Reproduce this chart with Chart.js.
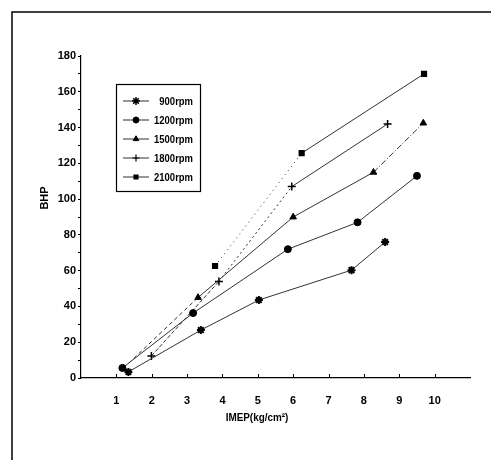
<!DOCTYPE html>
<html>
<head>
<meta charset="utf-8">
<script src="https://cdn.jsdelivr.net/npm/chart.js@4"></script>
<style>
html,body{margin:0;padding:0;background:#fff;}
#wrap{width:491px;height:460px;position:relative;}
</style>
</head>
<body>
<div id="wrap"><canvas id="c"></canvas></div>
<script>
// ---- data ----
const seriesNames = ["900rpm", "1200rpm", "1500rpm", "1800rpm", "2100rpm"];
const rpm900X  = [1.34, 3.39, 5.03, 7.65, 8.6];
const rpm900Y  = [3.4, 26.8, 43.6, 60.3, 76];
const rpm1200X = [1.17, 3.17, 5.85, 7.82, 9.5];
const rpm1200Y = [5.6, 36.3, 72, 87, 113];
const rpm1500X = [1.2, 3.31, 6.0, 8.27, 9.68];
const rpm1500Y = [5.5, 45, 90, 115, 142.5];
const rpm1800X = [1.99, 3.9, 5.96, 8.67];
const rpm1800Y = [12.3, 54, 107, 142];
const rpm2100X = [3.79, 6.24, 9.7];
const rpm2100Y = [62.6, 125.7, 170];
const xTickLabels = [1, 2, 3, 4, 5, 6, 7, 8, 9, 10];
const yTickLabels = [0, 20, 40, 60, 80, 100, 120, 140, 160, 180];
const xTitle = "IMEP(kg/cm\u00B2)";
const yTitle = "BHP";

const FONT = "'Liberation Sans',Arial,sans-serif";
const pts = (xs, ys) => xs.map((x, i) => ({x: x, y: ys[i]}));

const styles = [
  {pointStyle: 'star', radius: 4, borderWidth: 2, legendRadius: 4, legendWidth: 1.5, dashes: [[], [], [], []]},
  {pointStyle: 'circle', radius: 3.5, borderWidth: 1, legendRadius: 3, legendWidth: 1, dashes: [[], [], [], []]},
  {pointStyle: 'triangle', radius: 3.8, borderWidth: 1, legendRadius: 3.2, legendWidth: 1, dashes: [[4, 3], [], [], [6, 2, 1, 2]]},
  {pointStyle: 'cross', radius: 4, borderWidth: 1.5, legendRadius: 3.5, legendWidth: 1.2, dashes: [[4, 2], [2, 3], []]},
  {pointStyle: 'rect', radius: 3.3, borderWidth: 1.5, legendRadius: 2.8, legendWidth: 1.2, dashes: [[1, 4], []]}
];
const seriesData = [
  pts(rpm900X, rpm900Y), pts(rpm1200X, rpm1200Y), pts(rpm1500X, rpm1500Y),
  pts(rpm1800X, rpm1800Y), pts(rpm2100X, rpm2100Y)
];

const datasets = seriesNames.map((name, i) => ({
  label: name,
  data: seriesData[i],
  borderColor: '#333',
  borderWidth: 1,
  backgroundColor: '#000',
  pointBackgroundColor: '#000',
  pointBorderColor: '#000',
  pointStyle: styles[i].pointStyle,
  pointRadius: styles[i].radius,
  pointBorderWidth: styles[i].borderWidth,
  pointHoverRadius: styles[i].radius,
  fill: false,
  tension: 0,
  showLine: true,
  segment: {
    borderDash: ctx => styles[i].dashes[ctx.p0DataIndex] || []
  }
}));

const decor = {
  id: 'decor',
  beforeDraw(chart) {
    const ctx = chart.ctx;
    ctx.save();
    ctx.fillStyle = '#fff';
    ctx.fillRect(0, 0, chart.width, chart.height);
    ctx.strokeStyle = '#000';
    ctx.lineWidth = 1.5;
    ctx.beginPath();
    ctx.moveTo(12, 460);
    ctx.lineTo(12, 12);
    ctx.lineTo(491, 12);
    ctx.stroke();
    ctx.restore();
  },
  afterDraw(chart) {
    const ctx = chart.ctx;
    const xs = chart.scales.x, ys = chart.scales.y;
    ctx.save();
    // inward x ticks
    ctx.strokeStyle = '#000';
    ctx.lineWidth = 1;
    xTickLabels.forEach(v => {
      const px = Math.round(xs.getPixelForValue(v)) + 0.5;
      ctx.beginPath();
      ctx.moveTo(px, ys.bottom);
      ctx.lineTo(px, ys.bottom - 4);
      ctx.stroke();
    });
    // axis titles
    ctx.fillStyle = '#000';
    ctx.font = 'bold 11px ' + FONT;
    ctx.textAlign = 'center';
    ctx.textBaseline = 'middle';
    ctx.save();
    ctx.translate(257, 418);
    ctx.scale(0.9, 1);
    ctx.fillText(xTitle, 0, 0);
    ctx.restore();
    ctx.translate(45, 198);
    ctx.rotate(-Math.PI / 2);
    ctx.fillText(yTitle, 0, 0);
    ctx.restore();

    // legend box
    ctx.save();
    const L = 116, T = 84, R = 200, B = 191;
    ctx.fillStyle = '#fff';
    ctx.fillRect(L, T, R - L, B - T);
    ctx.strokeStyle = '#000';
    ctx.lineWidth = 1.2;
    ctx.strokeRect(L + 0.5, T + 0.5, R - L, B - T);
    chart.data.datasets.forEach((ds, i) => {
      const y = 101 + i * 19;
      ctx.strokeStyle = '#333';
      ctx.lineWidth = 1;
      ctx.setLineDash([]);
      ctx.beginPath();
      ctx.moveTo(123, y);
      ctx.lineTo(149, y);
      ctx.stroke();
      ctx.fillStyle = '#000';
      ctx.strokeStyle = '#000';
      ctx.lineWidth = styles[i].legendWidth;
      Chart.helpers.drawPoint(ctx, {
        pointStyle: styles[i].pointStyle,
        radius: styles[i].legendRadius,
        rotation: 0,
        borderWidth: styles[i].legendWidth
      }, 136, y);
      ctx.save();
      ctx.translate(193, y + 1);
      ctx.scale(0.86, 1);
      ctx.font = 'bold 11px ' + FONT;
      ctx.textAlign = 'right';
      ctx.textBaseline = 'middle';
      ctx.fillStyle = '#000';
      ctx.fillText(ds.label, 0, 0);
      ctx.restore();
    });
    ctx.restore();
  }
};

new Chart(document.getElementById('c'), {
  type: 'scatter',
  data: {datasets: datasets},
  options: {
    responsive: true,
    maintainAspectRatio: false,
    animation: false,
    layout: {padding: {top: 56, right: 21, left: 0, bottom: 0}},
    plugins: {legend: {display: false}, tooltip: {enabled: false}, title: {display: false}},
    scales: {
      x: {
        type: 'linear',
        min: 0, max: 11,
        afterFit: s => { s.height = 82; },
        border: {display: true, color: '#000', width: 1.2},
        grid: {display: false},
        ticks: {
          stepSize: 1,
          autoSkip: false,
          maxRotation: 0,
          padding: 8,
          color: '#000',
          font: {family: FONT, size: 11, weight: 'bold'},
          callback: v => xTickLabels.includes(v) ? String(v) : ''
        }
      },
      y: {
        type: 'linear',
        min: 0, max: 180,
        afterFit: s => { s.width = 81; },
        border: {display: true, color: '#000', width: 1.2},
        grid: {display: true, drawOnChartArea: false, drawTicks: true, tickLength: 3, color: '#000'},
        ticks: {
          stepSize: 10,
          autoSkip: false,
          padding: 2,
          color: '#000',
          font: {family: FONT, size: 11, weight: 'bold'},
          callback: v => yTickLabels.includes(v) ? String(v) : ''
        }
      }
    }
  },
  plugins: [decor]
});
</script>
</body>
</html>
